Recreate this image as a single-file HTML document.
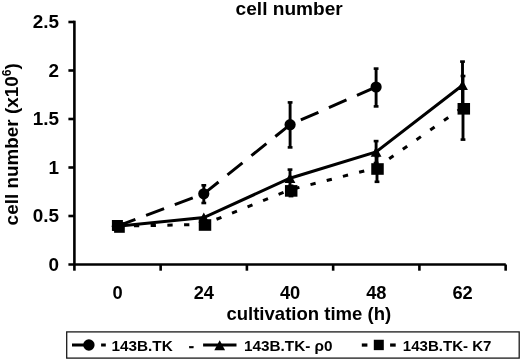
<!DOCTYPE html>
<html><head><meta charset="utf-8"><title>cell number</title>
<style>html,body{margin:0;padding:0;background:#fff;}body{width:520px;height:359px;overflow:hidden;font-family:"Liberation Sans",sans-serif;}</style>
</head><body>
<svg width="520" height="359" viewBox="0 0 520 359" style="display:block;will-change:transform">
<rect width="520" height="359" fill="#fff"/>
<g stroke="#000" stroke-width="2.6" fill="none" stroke-linecap="butt">
<line x1="74.4" y1="20.7" x2="74.4" y2="270.7"/>
<line x1="68.4" y1="264.5" x2="505.8" y2="264.5"/>
<line x1="68.4" y1="216.0" x2="74.4" y2="216.0"/>
<line x1="68.4" y1="167.5" x2="74.4" y2="167.5"/>
<line x1="68.4" y1="119.0" x2="74.4" y2="119.0"/>
<line x1="68.4" y1="70.5" x2="74.4" y2="70.5"/>
<line x1="68.4" y1="22.0" x2="74.4" y2="22.0"/>
<line x1="160.65" y1="264.5" x2="160.65" y2="270.7"/>
<line x1="246.90" y1="264.5" x2="246.90" y2="270.7"/>
<line x1="333.15" y1="264.5" x2="333.15" y2="270.7"/>
<line x1="419.40" y1="264.5" x2="419.40" y2="270.7"/>
<line x1="505.65" y1="264.5" x2="505.65" y2="270.7"/>
</g>
<polyline points="117.4,226.2 203.7,224.4 290.0,189.8 376.2,167.9 462.5,107.5" fill="none" stroke="#000" stroke-width="3" stroke-dasharray="5.3 11.42" stroke-dashoffset="0.2"/>
<polyline points="117.4,226.2 203.8,193.8 290.1,124.7 376.1,87.0" fill="none" stroke="#000" stroke-width="3" stroke-dasharray="19.2 11.45"/>
<polyline points="117.4,226.2 203.8,217.6 290.0,178.2 376.1,152.0 462.5,85.2" fill="none" stroke="#000" stroke-width="3" stroke-linejoin="miter"/>
<line x1="203.8" y1="185.3" x2="203.8" y2="203.0" stroke="#000" stroke-width="2.9"/><rect x="201.4" y="184.0" width="4.8" height="2.6" fill="#000"/><rect x="201.4" y="201.7" width="4.8" height="2.6" fill="#000"/>
<line x1="290.1" y1="102.4" x2="290.1" y2="147.4" stroke="#000" stroke-width="2.9"/><rect x="287.70000000000005" y="101.10000000000001" width="4.8" height="2.6" fill="#000"/><rect x="287.70000000000005" y="146.1" width="4.8" height="2.6" fill="#000"/>
<line x1="376.1" y1="68.6" x2="376.1" y2="106.4" stroke="#000" stroke-width="2.9"/><rect x="373.70000000000005" y="67.3" width="4.8" height="2.6" fill="#000"/><rect x="373.70000000000005" y="105.10000000000001" width="4.8" height="2.6" fill="#000"/>
<line x1="290.0" y1="169.6" x2="290.0" y2="187.0" stroke="#000" stroke-width="2.9"/><rect x="287.6" y="168.29999999999998" width="4.8" height="2.6" fill="#000"/><rect x="287.6" y="185.7" width="4.8" height="2.6" fill="#000"/>
<line x1="376.1" y1="141.1" x2="376.1" y2="163.0" stroke="#000" stroke-width="2.9"/><rect x="373.70000000000005" y="139.79999999999998" width="4.8" height="2.6" fill="#000"/><rect x="373.70000000000005" y="161.7" width="4.8" height="2.6" fill="#000"/>
<line x1="462.5" y1="61.6" x2="462.5" y2="108.6" stroke="#000" stroke-width="2.9"/><rect x="460.1" y="60.300000000000004" width="4.8" height="2.6" fill="#000"/><rect x="460.1" y="107.3" width="4.8" height="2.6" fill="#000"/>
<line x1="291.0" y1="185.8" x2="291.0" y2="196.1" stroke="#000" stroke-width="2.9"/><rect x="288.6" y="184.5" width="4.8" height="2.6" fill="#000"/><rect x="288.6" y="194.79999999999998" width="4.8" height="2.6" fill="#000"/>
<line x1="377.0" y1="156.0" x2="377.0" y2="181.8" stroke="#000" stroke-width="2.9"/><rect x="374.6" y="154.7" width="4.8" height="2.6" fill="#000"/><rect x="374.6" y="180.5" width="4.8" height="2.6" fill="#000"/>
<line x1="463.0" y1="76.0" x2="463.0" y2="139.6" stroke="#000" stroke-width="2.9"/><rect x="460.6" y="74.7" width="4.8" height="2.6" fill="#000"/><rect x="460.6" y="138.29999999999998" width="4.8" height="2.6" fill="#000"/>
<circle cx="117.4" cy="226.2" r="5.6" fill="#000"/>
<circle cx="203.8" cy="193.8" r="5.6" fill="#000"/>
<circle cx="290.1" cy="124.7" r="5.6" fill="#000"/>
<circle cx="376.1" cy="87.0" r="5.6" fill="#000"/>
<polygon points="117.4,221.0 122.80000000000001,231.0 112.0,231.0" fill="#000"/>
<polygon points="203.8,212.4 209.20000000000002,222.4 198.4,222.4" fill="#000"/>
<polygon points="290.0,173.0 295.4,183.0 284.6,183.0" fill="#000"/>
<polygon points="376.1,146.8 381.5,156.8 370.70000000000005,156.8" fill="#000"/>
<polygon points="462.5,80.0 467.9,90.0 457.1,90.0" fill="#000"/>
<rect x="111.9" y="220.0" width="11.0" height="10.8" fill="#000"/><rect x="114.1" y="222.2" width="10.7" height="10.6" fill="#000"/>
<rect x="198.75" y="219.2" width="12.5" height="11.6" fill="#000"/>
<rect x="284.95" y="185.1" width="12.5" height="11.6" fill="#000"/>
<rect x="371.25" y="163.2" width="12.5" height="11.6" fill="#000"/>
<rect x="457.55" y="103.0" width="12.5" height="11.6" fill="#000"/>
<g font-family="Liberation Sans, Arial, Helvetica, sans-serif" font-weight="bold" font-size="18.7" fill="#000">
<text x="289.2" y="14.8" text-anchor="middle" font-size="19.1">cell number</text>
<text x="58.9" y="270.6" text-anchor="end" font-size="18.9">0</text>
<text x="58.9" y="222.1" text-anchor="end" font-size="18.9">0.5</text>
<text x="58.9" y="173.6" text-anchor="end" font-size="18.9">1</text>
<text x="58.9" y="125.1" text-anchor="end" font-size="18.9">1.5</text>
<text x="58.9" y="76.6" text-anchor="end" font-size="18.9">2</text>
<text x="58.9" y="28.1" text-anchor="end" font-size="18.9">2.5</text>
<text x="117.5" y="298.9" text-anchor="middle" font-size="18.3">0</text>
<text x="203.8" y="298.9" text-anchor="middle" font-size="18.3">24</text>
<text x="290.1" y="298.9" text-anchor="middle" font-size="18.3">40</text>
<text x="376.3" y="298.9" text-anchor="middle" font-size="18.3">48</text>
<text x="462.6" y="298.9" text-anchor="middle" font-size="18.3">62</text>
<text x="308.8" y="320.0" text-anchor="middle" font-size="18.55">cultivation time (h)</text>
<text transform="translate(18.4,144.3) rotate(-90)" text-anchor="middle" font-size="18.9">cell number (x10<tspan font-size="12.2" dy="-7.8">6</tspan><tspan dy="7.8">)</tspan></text>
</g>
<rect x="66.7" y="331.9" width="452.5" height="26.2" fill="#fff" stroke="#1a1a1a" stroke-width="1.3"/>
<line x1="72" y1="345.05" x2="105.8" y2="345.05" stroke="#000" stroke-width="3" stroke-dasharray="17.5 11.6"/>
<circle cx="88.9" cy="345.05" r="5.7" fill="#000"/>
<line x1="203.1" y1="345.05" x2="236.5" y2="345.05" stroke="#000" stroke-width="3"/>
<polygon points="219.7,340.15000000000003 225.1,350.15000000000003 214.29999999999998,350.15000000000003" fill="#000"/>
<rect x="361.8" y="343.45" width="5.6" height="3.2" fill="#000"/>
<rect x="390.1" y="343.45" width="5.6" height="3.2" fill="#000"/>
<rect x="373.8" y="339.75" width="10" height="10.4" fill="#000"/>
<g font-family="Liberation Sans, Arial, Helvetica, sans-serif" font-weight="bold" font-size="15.3" fill="#000">
<text x="111.5" y="350.8">143B.TK</text>
<text x="188.7" y="351.0" stroke="#000" stroke-width="0.5">-</text>
<text x="244" y="350.8">143B.TK- ρ0</text>
<text x="402.8" y="350.8" font-size="15.05">143B.TK- K7</text>
</g>
</svg>
</body></html>
